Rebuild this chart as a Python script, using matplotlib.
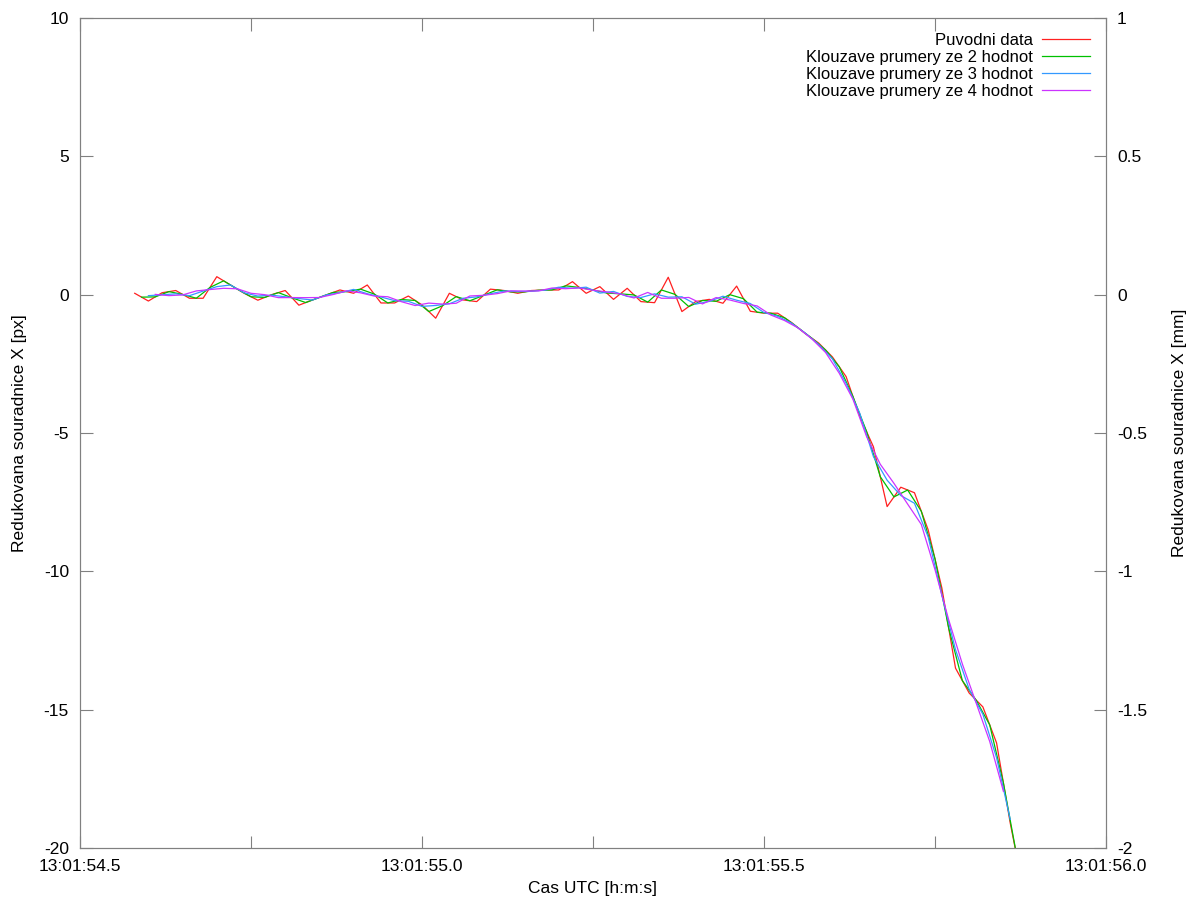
import numpy as np
import matplotlib
matplotlib.use("Agg")
import matplotlib.pyplot as plt

plt.rcParams['font.family'] = ['Liberation Sans', 'DejaVu Sans']
plt.rcParams['axes.unicode_minus'] = False

# cas snimku (sekundy po 13:01:00), krok 0.02 s
t0 = 54.58
dt = 0.02

# redukovana souradnice X [px]
x_px = [0.05, -0.23, 0.07, 0.15, -0.13, -0.13, 0.65, 0.35, 0.05, -0.2,
        0.0, 0.15, -0.38, -0.19, -0.01, 0.17, 0.05, 0.35, -0.3, -0.3,
        -0.05, -0.37, -0.85, 0.05, -0.19, -0.25, 0.2, 0.15, 0.05, 0.15,
        0.17, 0.17, 0.47, 0.05, 0.29, -0.17, 0.23, -0.25, -0.29, 0.63,
        -0.61, -0.25, -0.17, -0.31, 0.31, -0.6, -0.67, -0.67, -1.0, -1.4,
        -1.75, -2.25, -2.96, -4.4, -5.5, -7.66, -6.96, -7.16, -8.5, -10.6,
        -13.5, -14.4, -14.9, -16.2, -19.1, -21.6]

xticks = [54.5, 54.75, 55.0, 55.25, 55.5, 55.75, 56.0]
xticklabels = ['13:01:54.5', '', '13:01:55.0', '', '13:01:55.5', '', '13:01:56.0']

x_px = np.array(x_px)
t = t0 + dt * np.arange(len(x_px))

def klouzavy(y, n):
    # klouzavy prumer z n hodnot, umisteny do stredu okna
    yy = np.convolve(y, np.ones(n) / n, mode='valid')
    tt = np.convolve(t, np.ones(n) / n, mode='valid')
    return tt, yy

fig = plt.figure(figsize=(11.91, 9.01), dpi=100)
ax = fig.add_axes([80 / 1191, 1 - 848 / 901, (1106 - 80) / 1191, (848 - 18) / 901])

ax.plot(t, x_px, color='#ff2020', lw=0.9, label='Puvodni data')
colors = {2: '#00c000', 3: '#3399ff', 4: '#cc33ff'}
for n in (2, 3, 4):
    tt, yy = klouzavy(x_px, n)
    ax.plot(tt, yy, color=colors[n], lw=0.9,
            label='Klouzave prumery ze %d hodnot' % n)

ax.set_xlim(54.5, 56.0)
ax.set_ylim(-20, 10)
ax.set_xticks(xticks)
ax.set_xticklabels(xticklabels)
ax.set_yticks([10, 5, 0, -5, -10, -15, -20])

fs = 12.5
border = '#808080'
for s in ax.spines.values():
    s.set_color(border)
ax.tick_params(direction='in', length=9, color=border, labelsize=fs,
               top=True, pad=8)

ax2 = ax.twinx()
ax2.set_ylim(-2, 1)
ax2.set_yticks([1, 0.5, 0, -0.5, -1, -1.5, -2])
ax2.set_yticklabels(['1', '0.5', '0', '-0.5', '-1', '-1.5', '-2'])
ax2.tick_params(direction='in', length=9, color=border, labelsize=fs, pad=8)
for s in ax2.spines.values():
    s.set_color(border)
ax.tick_params(axis='y', right=False)

ax.set_xlabel('Cas UTC [h:m:s]', fontsize=fs, labelpad=5)
ax.set_ylabel('Redukovana souradnice X [px]', fontsize=fs, labelpad=12)
ax2.set_ylabel('Redukovana souradnice X [mm]', fontsize=fs, labelpad=18)

leg = ax.legend(loc='upper right', frameon=False, markerfirst=False,
                fontsize=12, handlelength=2.9, labelspacing=0.12,
                borderaxespad=0.0, handletextpad=0.55,
                bbox_to_anchor=(1 - 9 / 1026, 1 - 8 / 830))
for txt in leg.get_texts():
    txt.set_ha('right')

fig.savefig('out.png', dpi=100)
